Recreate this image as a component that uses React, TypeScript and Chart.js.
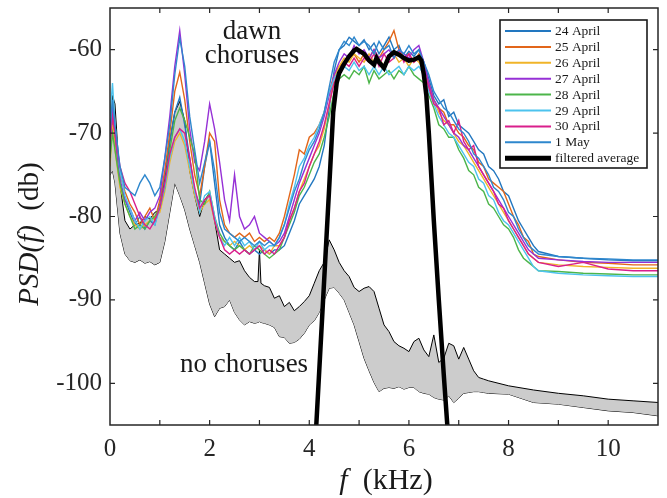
import React, { useEffect, useRef } from 'react';
import { Chart, registerables } from 'chart.js';

Chart.register(...registerables);

// ---------- data ----------
const DAY_LABELS = ['24 April', '25 April', '26 April', '27 April', '28 April', '29 April', '30 April', '1 May'];
const DAY_COLORS = ['#2277c0', '#e2661a', '#f0b429', '#9630d6', '#4cb54a', '#4dc3ee', '#d91f8c', '#2e87cd'];

const FREQ_DAYS = [
  0, 0.05,
  0.1, 0.2, 0.3, 0.4, 0.5, 0.6, 0.7, 0.8, 0.9, 1.0,
  1.1, 1.2, 1.3, 1.4, 1.5, 1.6, 1.7, 1.8, 1.9, 2.0,
  2.1, 2.2, 2.3, 2.4, 2.5, 2.6, 2.7, 2.8, 2.9, 3.0,
  3.1, 3.2, 3.3, 3.4, 3.5, 3.6, 3.7, 3.8, 3.9, 4.0,
  4.1, 4.2, 4.3, 4.4, 4.5, 4.6, 4.7, 4.8, 4.9, 5.0,
  5.1, 5.2, 5.3, 5.4, 5.5, 5.6, 5.7, 5.8, 5.9, 6.0,
  6.1, 6.2, 6.3, 6.4, 6.5, 6.6, 6.7, 6.8, 6.9, 7.0,
  7.1, 7.2, 7.3, 7.4, 7.5, 7.6, 7.7, 7.8, 7.9, 8.0,
  8.1, 8.2, 8.3, 8.4, 8.5, 8.6,
  9, 9.5, 10, 10.5, 11,
];

const APR24 = [
  -70, -67,
  -70, -76, -78, -79.5, -81, -80, -81.5, -80.5, -81, -78.5,
  -75, -71, -67.5, -65.7, -69, -73, -77, -78.5, -74, -71,
  -76, -81, -82.5, -83.5, -84, -83, -84, -84.5, -84, -84.5,
  -84, -84.5, -84, -84, -83.5, -82, -80.5, -78.5, -77.5, -76.5,
  -75.5, -74, -71.5, -67, -62.5, -60, -59.5, -58.5, -59, -59.5,
  -58.8, -60, -59.2, -60.5, -59.5, -58.5, -60, -59.5, -61, -60.2,
  -60.8, -60, -61.5, -63.5, -65.5, -66.5, -66, -68, -67.5, -69,
  -69.5, -70, -71, -72, -72.5, -74, -74.5, -75.5, -77, -77.5,
  -79, -80.5, -81.5, -82.5, -83.5, -84.2,
  -84.8, -85, -85.2, -85.3, -85.3,
];
const APR25 = [
  -73, -68,
  -71, -75, -77, -78.5, -79.5, -81, -80, -79, -80.5, -78,
  -74.5, -70, -65, -62.7, -66, -71, -75, -77.5, -74, -70,
  -71, -78, -81, -82, -82.5, -82, -82.5, -82, -83, -82.5,
  -83, -82.5, -83, -82, -80, -77.5, -75, -72, -72.5, -70.5,
  -70, -69, -67.5, -65, -63, -62, -61.5, -61, -60.5, -61.5,
  -60.5, -61, -60, -61, -60, -59, -57.7, -60, -61, -60.5,
  -61.5, -60.5, -62, -64, -66, -67, -67.5, -69, -69, -70,
  -70.5, -71.5, -72, -73.5, -74, -75.5, -76, -76.5, -77, -78.5,
  -80, -81, -82.5, -83, -84.5, -84.8,
  -85.2, -85.5, -85.6, -85.8, -85.8,
];
const APR26 = [
  -74, -69,
  -72, -76.5, -78.5, -80, -81, -81.5, -81, -80.5, -80, -79.5,
  -77, -73.5, -71, -70, -71.5, -74.5, -77.5, -79.5, -78.5, -78,
  -80.5, -82.5, -83, -83.5, -83, -83.5, -84, -83.5, -84, -83.5,
  -84, -84.5, -83.5, -83.5, -82.5, -80.5, -79, -77, -75.5, -74,
  -72.5, -71.5, -69.5, -66.5, -63.5, -62, -61, -61.5, -60.5, -61,
  -61.5, -60.5, -61.5, -61, -62, -61, -60.5, -61.5, -61, -62,
  -61, -61.5, -62.5, -64.5, -66, -67.5, -68.5, -69, -70, -71,
  -71.5, -72.5, -73.5, -74.5, -75.5, -76.5, -77.5, -78.5, -79.5, -80.5,
  -81.5, -82.5, -83.5, -84.5, -85, -85.5,
  -85.8, -86, -86.1, -86.2, -86.2,
];
const APR27 = [
  -72, -67,
  -70, -75.5, -78, -79, -80.5, -79.5, -80.5, -79.5, -79, -77.5,
  -73, -68, -62, -57.7, -63, -69.5, -73.5, -74.5, -71, -66.5,
  -69.5, -73.5, -78, -80.5, -75, -80, -81.5, -81, -80, -82,
  -82.5, -83, -83.5, -83, -82, -80, -78, -76, -74.5, -73,
  -71.5, -70, -68, -65.5, -63, -61.5, -60.5, -61, -59.5, -60.5,
  -60, -61, -60, -61, -60.5, -60, -61, -60, -60.5, -61,
  -60, -59.5, -61.5, -64, -66, -67, -68, -69, -70, -70.5,
  -71.5, -72, -73, -74, -75, -76, -77, -78, -79, -80,
  -81, -82, -83, -84, -84.5, -85,
  -85.2, -85.4, -85.5, -85.5, -85.5,
];
const APR28 = [
  -73, -70,
  -72, -76, -78.5, -80, -81.5, -81, -81.5, -80.5, -80, -79,
  -76.5, -72, -68.5, -67, -68.5, -70.5, -72.5, -78, -78.5, -77,
  -80, -82, -83, -83.5, -84, -83.5, -84, -84.5, -83.5, -84,
  -84.5, -85, -84.5, -84, -82.5, -81, -79.5, -77.5, -76.5, -75,
  -73.5, -72.5, -70.5, -68, -65, -63.5, -63, -63.5, -62.5, -63,
  -62, -64, -62.5, -63.5, -63, -62.5, -63.5, -62.5, -63, -62,
  -63, -63.5, -64, -65.5, -67, -69, -69.5, -70.5, -70.5, -72,
  -73, -74.5, -75, -76.5, -77, -78.5, -79, -80, -81, -81.5,
  -82.5, -84, -85, -85.5, -86, -86.5,
  -86.6, -86.8, -86.9, -87, -87,
];
const APR29 = [
  -68, -64,
  -69, -74.5, -77.5, -79, -80.5, -81.5, -80.5, -80, -81, -79,
  -76.5, -73, -70.5, -69.5, -71, -74, -77, -79.5, -77.5, -77,
  -80, -82.5, -83.5, -82.5, -83.5, -82.5, -83.5, -83, -84, -83,
  -84, -83.5, -83.5, -82.5, -81, -78.5, -76.5, -74, -73, -71.5,
  -70.5, -69, -67.5, -65, -63.5, -62.5, -62, -62.5, -61.5, -62.5,
  -62, -63, -62, -63, -62, -63, -62.5, -62, -63, -62,
  -62.5, -62, -63, -65, -66.5, -68, -69, -70, -70.5, -71.5,
  -72.5, -73.5, -74, -75.5, -76, -77.5, -78, -79.5, -80.5, -81,
  -82, -83, -84, -85, -86, -86.5,
  -86.8, -87, -87.1, -87.2, -87.2,
];
const APR30 = [
  -71, -68,
  -70, -74, -76, -77, -78.5, -80, -81, -81.5, -80.5, -79,
  -76, -72.5, -70.5, -69.5, -70, -73, -76.5, -79, -78, -77.5,
  -80.5, -82.5, -84, -84.5, -84, -84.5, -84, -84.5, -84, -83.5,
  -84.5, -84, -84.5, -83.5, -82.5, -80.5, -79, -77, -76, -74,
  -72.5, -71, -69, -66.5, -64, -62.5, -61.5, -62, -61, -62,
  -61, -61.5, -60.5, -62, -60.5, -61.5, -61, -60, -61.5, -60.5,
  -61.5, -61, -62.5, -64.5, -66.5, -67, -69, -68.5, -70, -68.5,
  -71, -72, -71.5, -74, -75, -76, -77, -78.5, -79, -80.5,
  -81.5, -82.5, -83.5, -84.5, -85, -85.5,
  -86, -85.5, -86.3, -86.5, -86.5,
];
const MAY1 = [
  -70, -66,
  -69, -74, -76.5, -77, -77.5, -76, -75, -76, -77.5, -76.5,
  -73, -69, -63, -58.6, -62, -68, -72, -76, -73.5, -71,
  -74.5, -79.5, -81.5, -82, -82.5, -83, -82.5, -83, -83.5, -83,
  -83.5, -83, -83.5, -82.5, -81, -79, -77, -75.5, -73.5, -72,
  -71, -69.5, -67.5, -64.5, -61.5, -60, -59, -59.5, -58.5, -59.5,
  -59, -59.5, -60.5, -59, -60, -59.5, -61, -60, -60.5, -59.5,
  -60.5, -60, -61.5, -63, -65, -66, -67, -67.5, -68.5, -69.5,
  -70, -71, -72.5, -73, -74, -75, -76.5, -77, -78, -79.5,
  -80, -81.5, -82.5, -83.5, -84, -84.5,
  -84.8, -85, -85.1, -85.2, -85.2,
];
const DAY_SERIES = [APR24, APR25, APR26, APR27, APR28, APR29, APR30, MAY1];

// "no choruses" band (upper and lower envelopes)
const FREQ_BAND = [
  0, 0.05,
  0.1, 0.2, 0.3, 0.4, 0.5, 0.6, 0.7, 0.8, 0.9, 1.0,
  1.1, 1.2, 1.3, 1.4, 1.5, 1.6, 1.7, 1.8, 1.9, 2.0,
  2.1, 2.2, 2.3, 2.4, 2.5, 2.6, 2.7, 2.8, 2.9,
  2.97, 3.0, 3.03,
  3.1, 3.2, 3.3, 3.4, 3.5, 3.6, 3.7, 3.8, 3.9, 4.0,
  4.1, 4.2, 4.3, 4.4, 4.5, 4.6, 4.7, 4.8, 4.9, 5.0,
  5.1, 5.2, 5.3, 5.4, 5.5, 5.6, 5.7, 5.8, 5.9, 6.0,
  6.1, 6.2, 6.3, 6.4, 6.5, 6.6, 6.7, 6.8, 6.9, 7.0,
  7.1, 7.2, 7.3, 7.4, 7.5, 7.6,
  8.0, 8.5, 9, 9.5, 10, 10.5, 11,
];
const BAND_UPPER = [
  -72, -65.5,
  -66.5, -76, -80.5, -81.5, -81, -80.8, -80, -80.3, -79.5, -79.2,
  -75.5, -71, -67.5, -66.2, -68.5, -74.5, -77.5, -80, -78, -77.2,
  -80.5, -84, -84.5, -85, -85.5, -85.3, -86.5, -87.3, -87.8,
  -87.8, -84, -88,
  -88.3, -88.5, -89.8, -89.5, -90.8, -90.3, -91.3, -90.8, -90.2, -89.5,
  -88, -86.5, -85.5, -82.8, -84, -85.5, -86.5, -87.2, -88.5, -89,
  -88.6, -88.4, -89, -91, -93, -93.8, -95, -95.5, -95.8, -96.2,
  -95, -94.6, -96, -96.8, -94.2, -97.5, -97, -95.2, -95.5, -97.1,
  -95.7, -97.1, -98.5, -99.3, -99.5, -99.7,
  -100.3, -100.8, -101.2, -101.5, -101.9, -102.1, -102.3,
];
const BAND_LOWER = [
  -75, -74.5,
  -76, -82, -84.5, -85.3, -85.5, -85.2, -85.6, -85.4, -85.8, -85.5,
  -83, -79.5, -76, -77.5, -79.2, -81.5, -83.5, -85.5, -88, -90.5,
  -92, -91, -90.8, -90, -91.5, -92.4, -93, -92.6, -92.8,
  -92.7, -92.6, -92.7,
  -92.8, -93, -93.3, -94.4, -94.5, -95.2, -95.1, -94.7, -94, -93,
  -92.5, -91.5, -90, -88.6, -88.5, -89.2, -90, -91.5, -93, -95,
  -97, -98.5, -99.9, -101, -100.6, -100.5, -100.6, -100.4, -100.7, -100.5,
  -100.5, -101, -101.2, -101.3, -101.7, -101.9, -102, -101.5, -102.3, -101.8,
  -101.2, -101.1, -101, -101, -101.1, -101.2,
  -101.3, -102.3, -102.5, -102.9, -103.3, -103.5, -103.9,
];

// filtered average
const FREQ_FILT = [
  4.1, 4.2, 4.3, 4.4, 4.48, 4.55, 4.6, 4.7, 4.8, 4.9, 4.95, 5.0, 5.1, 5.2, 5.3, 5.35,
  5.4, 5.5, 5.6, 5.7, 5.8, 5.9, 6.0, 6.1, 6.2, 6.25, 6.3, 6.35, 6.4, 6.5, 6.6, 6.7, 6.8,
];
const FILT_AVG = [
  -109.5, -98.5, -87.5, -76.5, -67.5, -64, -62.8, -61.7, -60.8, -60.1, -59.9, -60.1, -60.5, -61.3, -61.8, -61,
  -61.5, -62.2, -60.8, -60.3, -60.6, -61, -61.3, -61.2, -60.9, -61.3, -63, -65.5, -70, -80.5, -90, -99, -107.5,
];

const X_TICK_LABELS = [0, 2, 4, 6, 8, 10];
const X_TICK_MARKS = [1, 2, 3, 4, 5, 6, 7, 8, 9, 10];
const Y_TICKS = [-100, -90, -80, -70, -60];

const SERIF = '"Liberation Serif", "Times New Roman", serif';
const INK = '#262626';

const toPts = (xs: number[], ys: number[]) => xs.map((x, i) => ({ x, y: ys[i] }));

type Part = { t: string; it?: boolean };
function drawParts(ctx: CanvasRenderingContext2D, parts: Part[], cx: number, y: number, size: number) {
  const widths = parts.map((p) => {
    ctx.font = `${p.it ? 'italic ' : ''}${size}px ${SERIF}`;
    return ctx.measureText(p.t).width;
  });
  const total = widths.reduce((a, b) => a + b, 0);
  let x = cx - total / 2;
  parts.forEach((p, i) => {
    ctx.font = `${p.it ? 'italic ' : ''}${size}px ${SERIF}`;
    ctx.fillText(p.t, x, y);
    x += widths[i];
  });
}

const decor = {
  id: 'decor',
  afterDraw(chart: any) {
    const { ctx, chartArea: a, scales } = chart;
    const xs = scales.x;
    const ys = scales.y;
    ctx.save();
    ctx.strokeStyle = INK;
    ctx.fillStyle = INK;
    // frame
    ctx.lineWidth = 1.5;
    ctx.strokeRect(a.left, a.top, a.right - a.left, a.bottom - a.top);
    // inward ticks
    ctx.lineWidth = 1.2;
    ctx.beginPath();
    X_TICK_MARKS.forEach((v) => {
      const px = xs.getPixelForValue(v);
      ctx.moveTo(px, a.bottom);
      ctx.lineTo(px, a.bottom - 5);
      ctx.moveTo(px, a.top);
      ctx.lineTo(px, a.top + 5);
    });
    Y_TICKS.forEach((v) => {
      const py = ys.getPixelForValue(v);
      ctx.moveTo(a.left, py);
      ctx.lineTo(a.left + 5, py);
      ctx.moveTo(a.right, py);
      ctx.lineTo(a.right - 5, py);
    });
    ctx.stroke();

    // annotations
    ctx.textAlign = 'left';
    ctx.textBaseline = 'alphabetic';
    ctx.fillStyle = '#1a1a1a';
    drawParts(ctx, [{ t: 'dawn' }], xs.getPixelForValue(2.85), ys.getPixelForValue(-58.7), 27);
    drawParts(ctx, [{ t: 'choruses' }], xs.getPixelForValue(2.85), ys.getPixelForValue(-61.55), 27);
    drawParts(ctx, [{ t: 'no choruses' }], xs.getPixelForValue(2.69), ys.getPixelForValue(-98.6), 27);

    // axis titles
    drawParts(ctx, [{ t: 'f', it: true }, { t: '  (kHz)' }], 386, 489, 30);
    ctx.save();
    ctx.translate(38, 234);
    ctx.rotate(-Math.PI / 2);
    drawParts(ctx, [{ t: 'PSD(f)', it: true }, { t: '  (db)' }], 0, 0, 29);
    ctx.restore();

    // legend
    const entries = chart.data.datasets
      .filter((d: any) => d.legendIndex !== undefined)
      .sort((p: any, q: any) => p.legendIndex - q.legendIndex);
    const bw = 147;
    const bh = 148;
    const bx = a.right - 11 - bw;
    const by = a.top + 12;
    ctx.fillStyle = '#ffffff';
    ctx.fillRect(bx, by, bw, bh);
    ctx.lineWidth = 1.6;
    ctx.strokeStyle = '#1a1a1a';
    ctx.strokeRect(bx, by, bw, bh);
    ctx.font = `13.5px ${SERIF}`;
    ctx.textBaseline = 'middle';
    entries.forEach((d: any, i: number) => {
      const ry = by + 11 + i * 15.9;
      ctx.strokeStyle = d.borderColor;
      ctx.lineWidth = d.legendWidth;
      ctx.beginPath();
      ctx.moveTo(bx + 5, ry);
      ctx.lineTo(bx + 51, ry);
      ctx.stroke();
      ctx.fillStyle = '#1a1a1a';
      ctx.fillText(d.label, bx + 55, ry + 0.5);
    });
    ctx.restore();
  },
};

export default function App() {
  const ref = useRef<HTMLCanvasElement>(null);
  useEffect(() => {
    if (!ref.current) return;
    const datasets: any[] = [];
    datasets.push({
      label: 'filtered average',
      legendIndex: DAY_SERIES.length,
      legendWidth: 5,
      data: toPts(FREQ_FILT, FILT_AVG),
      borderColor: '#000000',
      borderWidth: 4.5,
      pointRadius: 0,
      fill: false,
      order: 0,
      clip: 0,
    });
    for (let i = DAY_SERIES.length - 1; i >= 0; i--) {
      datasets.push({
        label: DAY_LABELS[i],
        legendIndex: i,
        legendWidth: 2,
        data: toPts(FREQ_DAYS, DAY_SERIES[i]),
        borderColor: DAY_COLORS[i],
        borderWidth: 1.4,
        pointRadius: 0,
        fill: false,
        order: 1 + (DAY_SERIES.length - 1 - i),
      });
    }
    datasets.push({
      label: 'no choruses upper',
      data: toPts(FREQ_BAND, BAND_UPPER),
      borderColor: '#000000',
      borderWidth: 1,
      backgroundColor: '#cccccc',
      pointRadius: 0,
      fill: '+1',
      order: 20,
    });
    datasets.push({
      label: 'no choruses lower',
      data: toPts(FREQ_BAND, BAND_LOWER),
      borderColor: '#000000',
      borderWidth: 1,
      pointRadius: 0,
      fill: false,
      order: 21,
    });
    const chart = new Chart(ref.current, {
      type: 'line',
      data: { datasets },
      options: {
        responsive: false,
        animation: false,
        events: [],
        layout: { padding: { left: 0, right: 9, top: 8, bottom: 0 } },
        plugins: { legend: { display: false }, tooltip: { enabled: false } },
        scales: {
          x: {
            type: 'linear',
            min: 0,
            max: 11,
            afterBuildTicks: (s: any) => {
              s.ticks = X_TICK_LABELS.map((v) => ({ value: v }));
            },
            afterFit: (s: any) => {
              s.height = 73;
              s.paddingLeft = 0;
              s.paddingRight = 0;
            },
            grid: { display: false, drawTicks: false },
            border: { display: false },
            ticks: {
              padding: 9,
              maxRotation: 0,
              autoSkip: false,
              color: INK,
              font: { family: SERIF, size: 25 },
              callback: (v: any) => String(v),
            },
          },
          y: {
            type: 'linear',
            min: -105,
            max: -55,
            afterBuildTicks: (s: any) => {
              s.ticks = Y_TICKS.map((v) => ({ value: v }));
            },
            afterFit: (s: any) => {
              s.width = 110;
              s.paddingTop = 0;
              s.paddingBottom = 0;
            },
            grid: { display: false, drawTicks: false },
            border: { display: false },
            ticks: {
              padding: 8,
              color: INK,
              font: { family: SERIF, size: 25 },
              callback: (v: any) => String(v),
            },
          },
        },
      },
      plugins: [decor],
    } as any);
    return () => chart.destroy();
  }, []);
  return (
    <div style={{ position: 'absolute', left: 0, top: 0, width: 667, height: 498, background: '#ffffff' }}>
      <canvas ref={ref} width={667} height={498} style={{ display: 'block', width: 667, height: 498 }} />
    </div>
  );
}
